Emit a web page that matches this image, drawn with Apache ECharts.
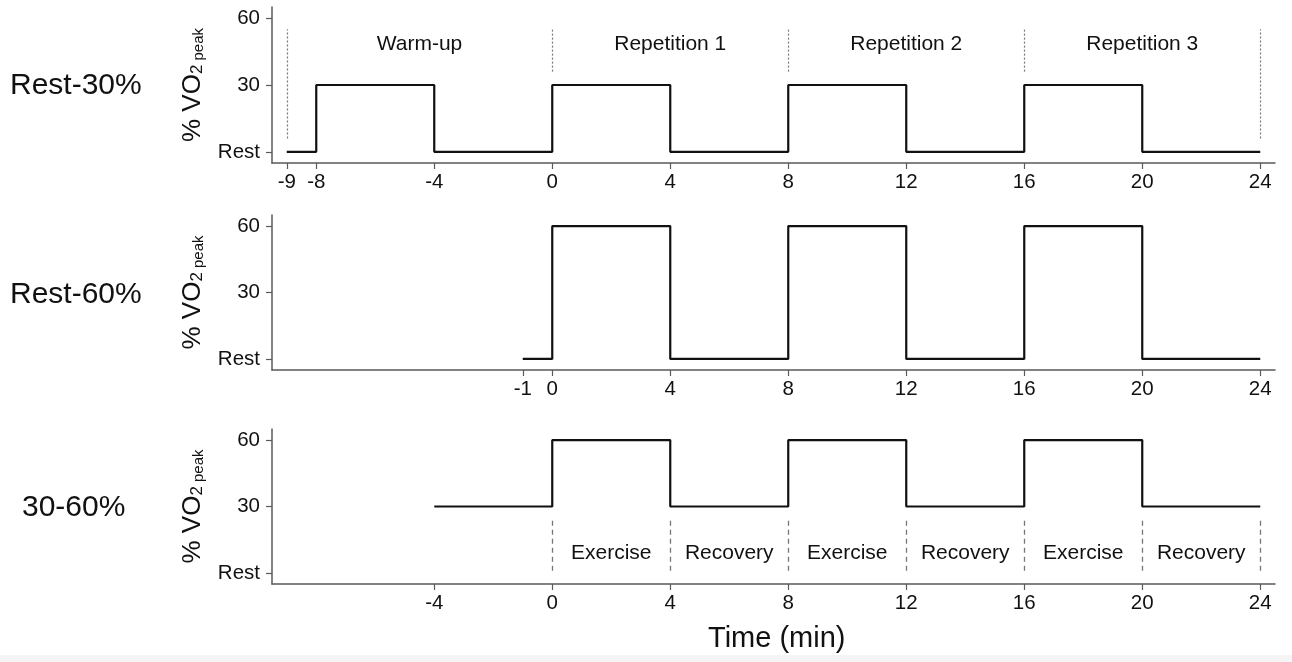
<!DOCTYPE html>
<html>
<head>
<meta charset="utf-8">
<script src="https://cdn.jsdelivr.net/npm/echarts@6/dist/echarts.min.js"></script>
<style>
  html, body { margin: 0; padding: 0; background: #ffffff; }
  #chart { width: 1292px; height: 662px; }
</style>
</head>
<body>
<div id="chart"></div>
<script>
// Protocol timelines: intensity (% VO2 peak) against time (min)
const restLevel = 0;

// Rest-30% protocol: step changes at these times
const rest30Times = [-9, -8, -4, 0, 4, 8, 12, 16, 20, 24];
const rest30Levels = [0, 30, 0, 30, 0, 30, 0, 30, 0, 0];

// Rest-60% protocol
const rest60Times = [-1, 0, 4, 8, 12, 16, 20, 24];
const rest60Levels = [0, 60, 0, 60, 0, 60, 0, 0];

// 30-60% protocol
const mixTimes = [-4, 0, 4, 8, 12, 16, 20, 24];
const mixLevels = [30, 60, 30, 60, 30, 60, 30, 30];

// Tick values per panel
const xTicksTop = [-9, -8, -4, 0, 4, 8, 12, 16, 20, 24];
const xTicksMid = [-1, 0, 4, 8, 12, 16, 20, 24];
const xTicksBot = [-4, 0, 4, 8, 12, 16, 20, 24];
const yTicks = [0, 30, 60];

// Phase annotations (top panel)
const phaseNames = ['Warm-up', 'Repetition 1', 'Repetition 2', 'Repetition 3'];
const phaseCenters = [-4.5, 4, 12, 20];
const phaseBounds = [-9, 0, 8, 16, 24];
const phaseBoundLow = [6, 36, 36, 36, 6];
const phaseBoundHigh = 55;
const phaseLabelLevel = 48.5;

// Exercise / recovery annotations (bottom panel)
const periodNames = ['Exercise', 'Recovery', 'Exercise', 'Recovery', 'Exercise', 'Recovery'];
const periodCenters = [2, 6, 10, 14, 18, 22];
const periodBounds = [0, 4, 8, 12, 16, 20, 24];
const periodBoundLow = 1;
const periodBoundHigh = 25;
const periodLabelLevel = 8.7;

const panelNames = ['Rest-30%', 'Rest-60%', '30-60%'];

const FONT = '"Liberation Sans", Arial, Helvetica, sans-serif';
const AXIS_COLOR = '#5a5a5a';
const INK = '#111111';

const grids = [
  { left: 272, right: 17, top: 7, height: 156 },
  { left: 272, right: 17, top: 215, height: 155 },
  { left: 272, right: 17, top: 429, height: 155 }
];

function xAxisFor(gridIndex, ticks) {
  return {
    type: 'value', gridIndex: gridIndex, min: -9.5, max: 24.5,
    splitLine: { show: false },
    axisLine: { show: true, onZero: false, lineStyle: { color: AXIS_COLOR, width: 1.5 } },
    axisTick: { show: true, length: 6, customValues: ticks, lineStyle: { color: AXIS_COLOR, width: 1.2 } },
    axisLabel: { customValues: ticks, color: INK, fontSize: 20.5, fontFamily: FONT, margin: 9 }
  };
}

function yAxisFor(gridIndex) {
  return {
    type: 'value', gridIndex: gridIndex, min: -5, max: 65,
    splitLine: { show: false },
    axisLine: { show: true, onZero: false, lineStyle: { color: AXIS_COLOR, width: 1.5 } },
    axisTick: { show: true, length: 6, customValues: yTicks, lineStyle: { color: AXIS_COLOR, width: 1.2 } },
    axisLabel: {
      customValues: yTicks, color: INK, fontSize: 20.5, fontFamily: FONT, margin: 12,
      formatter: v => (v === restLevel ? 'Rest' : String(v))
    },
    // "% VO2 peak" with a lowered subscript
    name: '{a|% VO}{b|2}{c| peak}',
    nameLocation: 'middle',
    nameRotate: 90,
    nameGap: 66,
    nameTextStyle: {
      color: INK, fontFamily: FONT,
      rich: {
        a: { fontSize: 26, fontFamily: FONT, color: INK, verticalAlign: 'bottom', lineHeight: 32 },
        b: { fontSize: 17, fontFamily: FONT, color: INK, verticalAlign: 'bottom', lineHeight: 18 },
        c: { fontSize: 15, fontFamily: FONT, color: INK, verticalAlign: 'bottom', lineHeight: 18 }
      }
    }
  };
}

function pairs(xs, ys) {
  return xs.map((x, i) => [x, ys[i]]);
}

function stepSeries(idx, xs, ys, marks) {
  return {
    type: 'line', xAxisIndex: idx, yAxisIndex: idx,
    data: pairs(xs, ys), step: 'end', symbol: 'none',
    lineStyle: { color: INK, width: 2.2 },
    silent: true, animation: false,
    markLine: marks
  };
}

const topMarks = {
  silent: true, symbol: ['none', 'none'], label: { show: false },
  lineStyle: { color: '#777', type: [2, 2], width: 1.2 },
  emphasis: { disabled: true }, animation: false,
  data: phaseBounds.map((x, i) => [{ coord: [x, phaseBoundLow[i]] }, { coord: [x, phaseBoundHigh] }])
};

const botMarks = {
  silent: true, symbol: ['none', 'none'], label: { show: false },
  lineStyle: { color: '#777', type: [5, 4], width: 1.3 },
  emphasis: { disabled: true }, animation: false,
  data: periodBounds.map(x => [{ coord: [x, periodBoundLow] }, { coord: [x, periodBoundHigh] }])
};

function labelSeries(idx, names, centers, level) {
  return {
    type: 'scatter', xAxisIndex: idx, yAxisIndex: idx,
    data: centers.map((c, i) => ({ value: [c, level], name: names[i] })),
    symbolSize: 0, silent: true, animation: false,
    itemStyle: { opacity: 1 },
    label: {
      show: true, position: 'inside', formatter: p => p.name,
      color: INK, fontSize: 21, fontFamily: FONT, opacity: 1
    }
  };
}

const option = {
  backgroundColor: '#ffffff',
  animation: false,
  grid: grids,
  xAxis: [xAxisFor(0, xTicksTop), xAxisFor(1, xTicksMid), xAxisFor(2, xTicksBot)],
  yAxis: [yAxisFor(0), yAxisFor(1), yAxisFor(2)],
  series: [
    stepSeries(0, rest30Times, rest30Levels, topMarks),
    stepSeries(1, rest60Times, rest60Levels, null),
    stepSeries(2, mixTimes, mixLevels, botMarks),
    labelSeries(0, phaseNames, phaseCenters, phaseLabelLevel),
    labelSeries(2, periodNames, periodCenters, periodLabelLevel)
  ],
  graphic: [
    { type: 'text', left: 10, top: 71, style: { text: panelNames[0], font: '30px ' + FONT, fill: INK } },
    { type: 'text', left: 10, top: 280, style: { text: panelNames[1], font: '30px ' + FONT, fill: INK } },
    { type: 'text', left: 22, top: 493, style: { text: panelNames[2], font: '30px ' + FONT, fill: INK } },
    { type: 'text', left: 708, top: 624, style: { text: 'Time (min)', font: '29px ' + FONT, fill: INK } },
    { type: 'rect', left: 0, top: 655, shape: { width: 1292, height: 7 }, style: { fill: '#f5f5f5' }, z: -1 }
  ]
};

const chart = echarts.init(document.getElementById('chart'), null, { renderer: 'canvas' });
chart.setOption(option);
</script>
</body>
</html>
